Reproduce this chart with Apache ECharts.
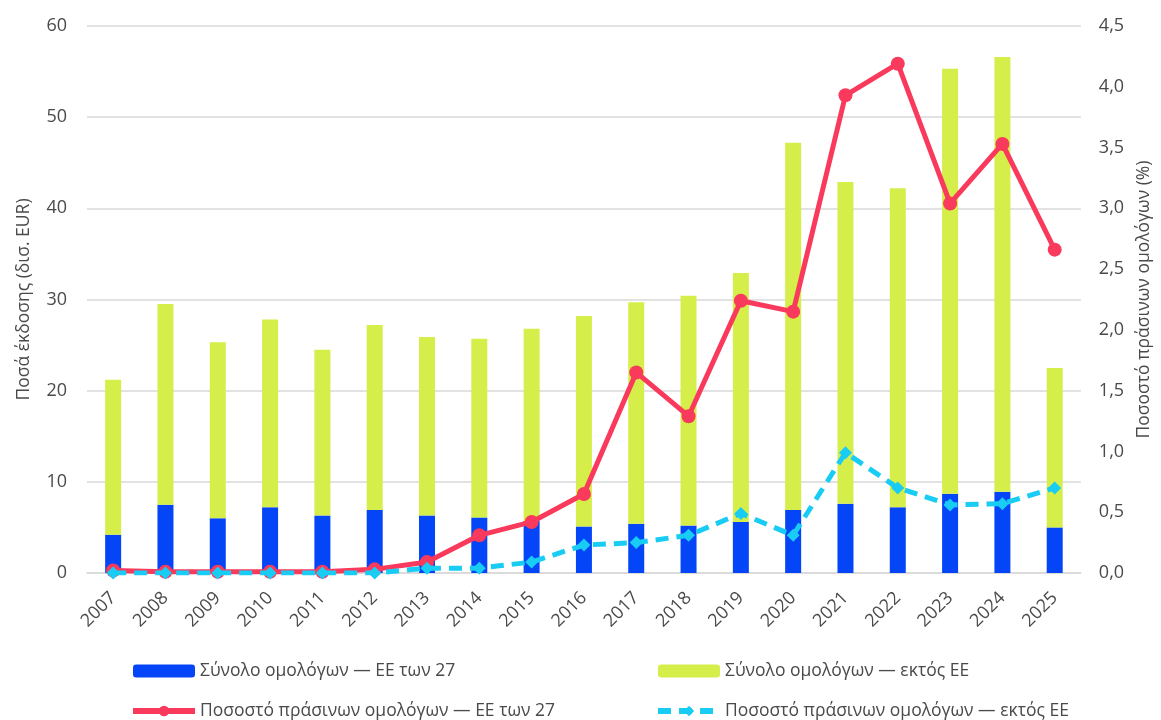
<!DOCTYPE html>
<html>
<head>
<meta charset="utf-8">
<script src="https://cdn.jsdelivr.net/npm/echarts@6/dist/echarts.min.js"></script>
<style>
  html, body { margin: 0; padding: 0; background: #fff; }
  #chart { width: 1161px; height: 720px; }
</style>
</head>
<body>
<div id="chart"></div>
<script>
// Years on the category axis
const years = ['2007','2008','2009','2010','2011','2012','2013','2014','2015','2016',
               '2017','2018','2019','2020','2021','2022','2023','2024','2025'];

// Total bond issuance, EUR bn
const totalEU27 = [4.2, 7.5, 6.0, 7.2, 6.3, 6.9, 6.3, 6.1, 5.7, 5.1,
                   5.4, 5.2, 5.6, 6.9, 7.6, 7.2, 8.7, 8.9, 5.0];
const totalAll  = [21.2, 29.5, 25.3, 27.8, 24.5, 27.2, 25.9, 25.7, 26.8, 28.2,
                   29.7, 30.4, 32.9, 47.2, 42.9, 42.2, 55.3, 56.6, 22.5];
// Non-EU part is stacked on top of the EU-27 part
const totalNonEU = totalAll.map((t, i) => +(t - totalEU27[i]).toFixed(2));

// Share of green bonds, %
const greenEU27  = [0.02, 0.01, 0.01, 0.01, 0.01, 0.03, 0.09, 0.31, 0.42, 0.65,
                    1.65, 1.29, 2.24, 2.15, 3.93, 4.19, 3.04, 3.53, 2.66];
const greenNonEU = [0.0, 0.0, 0.0, 0.0, 0.0, 0.0, 0.04, 0.04, 0.09, 0.23,
                    0.25, 0.31, 0.49, 0.31, 0.99, 0.70, 0.56, 0.57, 0.70];

const names = {
  barEU: 'Σύνολο ομολόγων — ΕΕ των 27',
  barNon: 'Σύνολο ομολόγων — εκτός ΕΕ',
  lineEU: 'Ποσοστό πράσινων ομολόγων — ΕΕ των 27',
  lineNon: 'Ποσοστό πράσινων ομολόγων — εκτός ΕΕ'
};

const C = {
  blue: '#0445F7',
  lime: '#D5EE4A',
  red: '#F93A5C',
  cyan: '#18CCF4',
  text: '#4a4a4a',
  grid: '#d9d9d9'
};

const FONT = 'Open Sans';

const chart = echarts.init(document.getElementById('chart'), null, { renderer: 'canvas' });

const legendBase = {
  orient: 'vertical',
  top: 661,
  height: 90,
  padding: 0,
  itemWidth: 62,
  itemHeight: 13,
  itemGap: 20,
  lineStyle: { width: 6 },
  textStyle: { color: C.text, fontFamily: FONT, fontSize: 17.5, lineHeight: 20 }
};

chart.setOption({
  animation: false,
  backgroundColor: '#fff',
  grid: { left: 87, right: 79, top: 26, bottom: 147 },
  legend: [
    Object.assign({}, legendBase, { left: 130, data: [names.barEU, names.lineEU] }),
    Object.assign({}, legendBase, { left: 655, data: [names.barNon, names.lineNon] })
  ],
  xAxis: {
    type: 'category',
    data: years,
    axisLine: { show: true, lineStyle: { color: C.grid, width: 1.5 } },
    axisTick: { show: false },
    axisLabel: { rotate: 45, color: C.text, fontFamily: FONT, fontSize: 18, margin: 22 }
  },
  yAxis: [
    {
      type: 'value',
      min: 0, max: 60, interval: 10,
      name: 'Ποσά έκδοσης (δισ. EUR)',
      nameLocation: 'middle',
      nameGap: 54,
      nameRotate: 90,
      nameTextStyle: { color: C.text, fontFamily: FONT, fontSize: 17.5 },
      axisLine: { show: false },
      axisTick: { show: false },
      axisLabel: { color: C.text, fontFamily: FONT, fontSize: 18, margin: 20 },
      splitLine: { lineStyle: { color: C.grid, width: 1.5 } }
    },
    {
      type: 'value',
      min: 0, max: 4.5, interval: 0.5,
      position: 'right',
      name: 'Ποσοστό πράσινων ομολόγων (%)',
      nameLocation: 'middle',
      nameGap: 48,
      nameRotate: 90,
      nameTextStyle: { color: C.text, fontFamily: FONT, fontSize: 17.5 },
      axisLine: { show: false },
      axisTick: { show: false },
      axisLabel: {
        color: C.text, fontFamily: FONT, fontSize: 18, margin: 18,
        formatter: v => v.toFixed(1).replace('.', ',')
      },
      splitLine: { show: false }
    }
  ],
  series: [
    {
      name: names.barEU,
      type: 'bar',
      stack: 'total',
      barWidth: 16,
      data: totalEU27,
      itemStyle: { color: C.blue }
    },
    {
      name: names.barNon,
      type: 'bar',
      stack: 'total',
      barWidth: 16,
      data: totalNonEU,
      itemStyle: { color: C.lime }
    },
    {
      name: names.lineEU,
      type: 'line',
      yAxisIndex: 1,
      data: greenEU27,
      symbol: 'circle',
      symbolSize: 14,
      lineStyle: { color: C.red, width: 5 },
      itemStyle: { color: C.red },
      z: 5
    },
    {
      name: names.lineNon,
      type: 'line',
      yAxisIndex: 1,
      data: greenNonEU,
      symbol: 'diamond',
      symbolSize: 13,
      lineStyle: { color: C.cyan, width: 5, type: [13, 8] },
      itemStyle: { color: C.cyan },
      z: 6
    }
  ]
});
</script>
</body>
</html>
